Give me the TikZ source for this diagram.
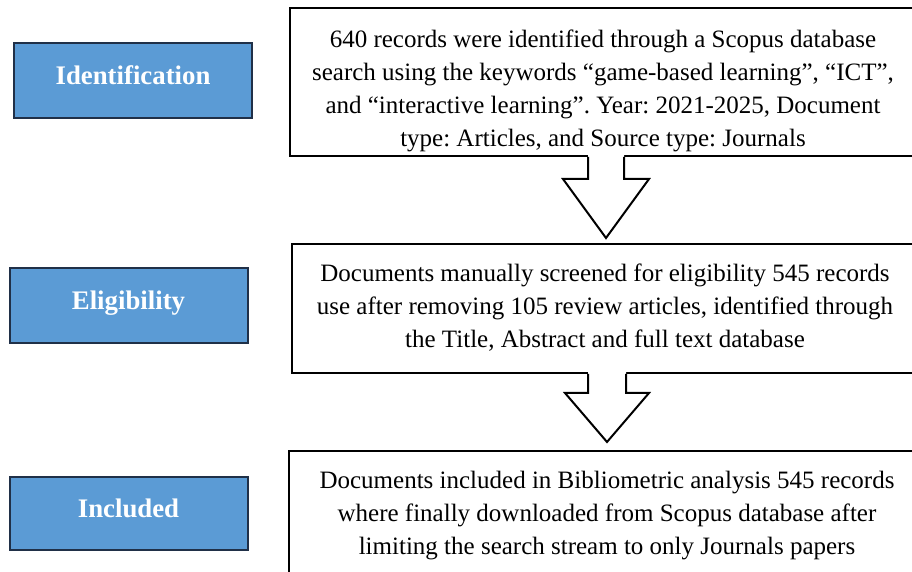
\documentclass[tikz,border=0pt]{standalone}
\usepackage{fontspec}
\setmainfont{Liberation Serif}
\usepackage{tikz}
\usetikzlibrary{calc}
\definecolor{stageblue}{RGB}{91, 155, 213}
\definecolor{stageedge}{RGB}{32, 48, 72}
\frenchspacing

\begin{document}
\begin{tikzpicture}[x=0.5pt, y=-0.5pt,
    stage/.style={draw=stageedge, line width=1pt, fill=stageblue, minimum width=119pt,
        minimum height=37.5pt, text height=9pt, text depth=5pt, text=white,
        font=\fontsize{13.4}{16}\selectfont\bfseries},
    flowbox/.style={draw, line width=1pt, fill=white},
    flowtext/.style={align=center, font=\fontsize{12.5}{16.5}\selectfont},
    blockarrow/.style={line width=1pt, line join=miter}
]
\clip (0,0) rectangle (912,572);
\fill[white] (0,0) rectangle (912,572);

% stage labels
\node[stage] (ident) at (133,80.5) {Identification};
\node[stage] (elig) at (128.5,305.5) {Eligibility};
\node[stage, minimum height=36.5pt] (incl) at (128.5,513.5) {Included};

% boxes on the right
\node[flowbox, minimum width=316pt, minimum height=74pt] (search) at (606,82) {};
\node[flowbox, minimum width=315pt, minimum height=64.5pt] (screen) at (607,308.5) {};
\node[flowbox, minimum width=318pt, minimum height=75pt] (final) at (607,526) {};

\node[flowtext] (searchtxt) at ($(search.center)+(-3,9)$) {640 records were identified through a Scopus database\\
    search using the keywords “game-based learning”, “ICT”,\\
    and “interactive learning”. Year: 2021-2025, Document\\
    type: Articles, and Source type: Journals};
\node[flowtext] (screentxt) at ($(screen.center)+(-2,-1)$) {Documents manually screened for eligibility 545 records\\
    use after removing 105 review articles, identified through\\
    the Title, Abstract and full text database};
\node[flowtext] (finaltxt) at (607,516) {Documents included in Bibliometric analysis 545 records\\
    where finally downloaded from Scopus database after\\
    limiting the search stream to only Journals papers};

% block arrows
\coordinate (tip1) at ($(search.south)+(0,81)$);
\fill[white] ($(search.south)+(-18,-3)$) -- ++(0,25) -- ++(-25,0) -- (tip1)
    -- ($(search.south)+(43,22)$) -- ++(-25,0) -- ++(0,-25) -- cycle;
\draw[blockarrow] ($(search.south)+(-18,0)$) -- ++(0,22) -- ++(-25,0) -- (tip1)
    -- ($(search.south)+(43,22)$) -- ++(-25,0) -- ++(0,-22);

\coordinate (tip2) at ($(screen.south)+(0,68)$);
\fill[white] ($(screen.south)+(-19,-3)$) -- ++(0,22) -- ++(-23,0) -- (tip2)
    -- ($(screen.south)+(42,19)$) -- ++(-23,0) -- ++(0,-22) -- cycle;
\draw[blockarrow] ($(screen.south)+(-19,0)$) -- ++(0,19) -- ++(-23,0) -- (tip2)
    -- ($(screen.south)+(42,19)$) -- ++(-23,0) -- ++(0,-19);
\end{tikzpicture}
\end{document}
